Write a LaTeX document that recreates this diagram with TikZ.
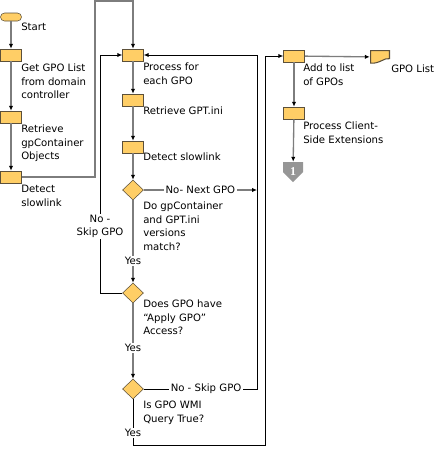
\documentclass[tikz,border=0pt]{standalone}
\usepackage{fontspec}
\setmainfont{DejaVu Sans}
\newfontfamily\numfont{Liberation Serif}
\usetikzlibrary{shapes.geometric, arrows.meta}
\definecolor{gold}{RGB}{255,206,102}
\definecolor{rim}{RGB}{92,80,58}
\definecolor{wire}{RGB}{125,125,125}
\definecolor{plate}{RGB}{150,150,150}
\tikzset {
    x=0.75pt, y=-0.75pt,
    >={Latex[length=3.6pt, width=3.2pt, color=black]},
    every node/.style={font=\fontsize{7.6}{10.1}\selectfont},
    proc/.style={rectangle, draw=rim, fill=gold, minimum width=15.75pt, minimum height=9pt, inner sep=0pt},
    decision/.style={diamond, draw=rim, fill=gold, minimum width=15.75pt, minimum height=15pt, inner sep=0pt},
    term/.style={rectangle, rounded corners=3pt, draw=rim, fill=gold, minimum width=15.75pt, minimum height=6pt, inner sep=0pt},
    docshape/.style={minimum width=15pt, minimum height=10.5pt, inner sep=0pt,
        path picture={
            \filldraw[draw=rim, fill=gold, line width=0.8pt]
            ([shift={(0.4pt,-0.4pt)}]path picture bounding box.north west) --
            ([shift={(-0.4pt,-0.4pt)}]path picture bounding box.north east) --
            ([shift={(-0.4pt,4pt)}]path picture bounding box.south east) ..
            controls ([shift={(-4pt,5pt)}]path picture bounding box.south east) and
                     ([shift={(7pt,0pt)}]path picture bounding box.south west) ..
            ([shift={(0.4pt,0.6pt)}]path picture bounding box.south west) -- cycle;
        }},
    offpage/.style={minimum width=15pt, minimum height=15pt, inner sep=0pt, text=white,
        font=\numfont\bfseries\fontsize{9}{9}\selectfont,
        path picture={
            \fill[plate] (path picture bounding box.north west) --
            (path picture bounding box.north east) --
            (path picture bounding box.east) --
            (path picture bounding box.south) --
            (path picture bounding box.west) -- cycle;
        }},
    flow/.style={draw=wire, line width=1pt, ->},
    loop/.style={draw=black, line width=0.6pt, ->},
    lbl/.style={fill=white, inner sep=1pt},
    note/.style={anchor=north west, inner sep=0pt, align=left}
}

\begin{document}
\begin{tikzpicture}
\useasboundingbox (0,0) rectangle (438,451);

% left column
\node[term] (start) at (11,17) {};
\node[proc] (getlist) at (11,55) {};
\node[proc] (getcont) at (11,117) {};
\node[proc] (slowA) at (11,177) {};
\node[note] (startTxt) at (21,23) {Start};
\node[note] (getlistTxt) at (21,64) {Get GPO List\\from domain\\controller};
\node[note] (getcontTxt) at (21,125) {Retrieve\\gpContainer\\Objects};
\node[note] (slowATxt) at (21,185) {Detect\\slowlink};

% per-GPO loop
\node[proc] (foreach) at (133,55) {};
\node[proc] (gptini) at (133,100) {};
\node[proc] (slowB) at (133,147) {};
\node[decision] (vermatch) at (133,190) {};
\node[decision] (access) at (133,293) {};
\node[decision] (wmi) at (133,389) {};
\node[note] (foreachTxt) at (143,63) {Process for\\each GPO};
\node[note] (gptiniTxt) at (143,107) {Retrieve GPT.ini};
\node[note] (slowBTxt) at (143,153) {Detect slowlink};
\node[note] (vermatchTxt) at (143,202) {Do gpContainer\\and GPT.ini\\versions\\match?};
\node[note] (accessTxt) at (143,300) {Does GPO have\\“Apply GPO”\\Access?};
\node[note] (wmiTxt) at (143,401) {Is GPO WMI\\Query True?};

% right column
\node[proc] (addlist) at (294,56) {};
\node[docshape] (gpolist) at (380,57) {};
\node[proc] (cse) at (294,113) {};
\node[offpage] (conn1) at (293,172) {1};
\node[note] (addlistTxt) at (303,64) {Add to list\\of GPOs};
\node[note] (gpolistTxt) at (391,65) {GPO List};
\node[note] (cseTxt) at (303,122) {Process Client-\\Side Extensions};

\draw[flow] (start) -- (getlist);
\draw[flow] (getlist) -- (getcont);
\draw[flow] (getcont) -- (slowA);
\draw[flow] (slowA.east) -| (95,1) -| (foreach.north);
\draw[flow] (foreach) -- (gptini);
\draw[flow] (gptini) -- (slowB);
\draw[flow] (slowB) -- (vermatch);
\draw[flow] (vermatch) -- node[lbl, pos=0.735] (yesA) {Yes} (access);
\draw[flow] (access) -- node[lbl, pos=0.59] (yesB) {Yes} (wmi);
\draw[flow] (vermatch.east) -- node[lbl, pos=0.5] (nextGpo) {No- Next GPO} (257,190);
\draw[loop] (access.west) -| node[lbl, pos=0.64, align=center] (skipA) {No -\\Skip GPO} (100,55) -- (foreach.west);
\draw[loop] (wmi.east) -- node[lbl, pos=0.55] (skipB) {No - Skip GPO} (257,389) |- (foreach.east);
\draw[loop] (wmi.south) |- node[lbl, pos=0.37] (yesC) {Yes} (265,445) |- (addlist.west);
\draw[flow] (addlist) -- (gpolist);
\draw[flow] (addlist) -- (cse);
\draw[flow] (cse) -- (conn1);
\end{tikzpicture}
\end{document}
